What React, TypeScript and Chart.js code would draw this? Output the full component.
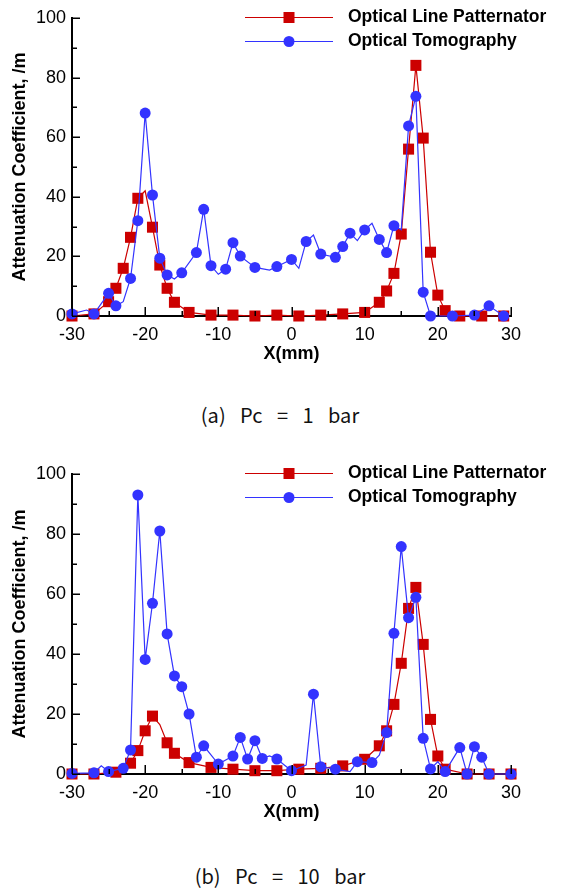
import React, { useEffect, useRef } from "react";
import { Chart, registerables } from "chart.js";
Chart.register(...registerables);

// ---- Panel (a) Pc = 1 bar ----
const olpX_a = [-30, -27, -25, -24, -23, -22, -21, -20, -19, -18, -17, -16, -14, -11, -8, -5, -2, 1, 4, 7, 10, 12, 13, 14, 15, 16, 17, 18, 19, 20, 21, 23, 26, 29];
const olpY_a = [0, 0.7, 4.8, 9.3, 16.0, 26.4, 39.5, 42.0, 29.8, 17.1, 9.3, 4.6, 1.2, 0.3, 0.3, 0, 0.3, 0, 0.3, 0.7, 1.2, 4.6, 8.4, 14.3, 27.5, 56.0, 84.1, 59.7, 21.4, 7.0, 1.8, 0, 0, 0];
const olpNoSymbol_a = [-20];

const otX_a = [-30, -28, -27, -25, -24, -23, -22, -21, -20, -19, -18, -17, -16, -15, -13, -12, -11, -10, -9, -8, -7, -5, -3, -2, 0, 1, 2, 3, 4, 6, 7, 8, 9, 10, 11, 12, 13, 14, 15, 16, 17, 18, 19, 22, 25, 27, 29];
const otY_a = [0.7, 2.0, 0.7, 7.6, 3.4, 4.8, 12.6, 32.0, 68.1, 40.6, 19.4, 13.8, 12.4, 14.5, 21.3, 35.8, 16.9, 14.0, 15.7, 24.6, 20.1, 16.3, 15.4, 16.6, 19.0, 16.0, 25.0, 27.2, 20.8, 19.7, 23.3, 27.8, 25.3, 28.9, 31.1, 25.7, 21.3, 30.3, 28.9, 63.8, 73.7, 8.0, 0, 0, 0.3, 3.4, 0];
const otNoSymbol_a = [-28, -23, -16, -10, -3, 1, 3, 9, 11, 15];

// ---- Panel (b) Pc = 10 bar ----
const olpX_b = [-30, -27, -24, -22, -21, -20, -19, -18, -17, -16, -14, -11, -8, -5, -2, 1, 4, 7, 10, 12, 13, 14, 15, 16, 17, 18, 19, 20, 21, 24, 27, 30];
const olpY_b = [0, 0, 0.6, 3.6, 7.8, 14.4, 19.3, 16.5, 10.4, 6.9, 3.8, 2.2, 1.6, 1.1, 1.1, 1.6, 1.9, 2.7, 4.9, 9.4, 14.4, 23.2, 36.9, 55.2, 62.2, 43.2, 18.2, 6.0, 1.6, 0, 0, 0];
const olpNoSymbol_b = [-18];

const otX_b = [-30, -27, -26, -25, -23, -22, -21, -20, -19, -18, -17, -16, -15, -14, -13, -12, -10, -8, -7, -6, -5, -4, -3, -2, 0, 2, 3, 4, 6, 8, 9, 11, 12, 13, 14, 15, 16, 17, 18, 19, 20, 21, 23, 24, 25, 26, 27, 30];
const otY_b = [0.2, 0.4, 2.7, 0.8, 1.9, 8.0, 93.0, 38.2, 56.9, 81.0, 46.7, 32.7, 29.1, 20.0, 5.6, 9.4, 3.3, 6.0, 12.2, 5.0, 11.1, 5.2, 6.0, 5.0, 1.1, 3.0, 26.6, 2.4, 1.6, 0.8, 4.1, 3.8, 6.3, 13.8, 46.9, 75.8, 52.1, 58.9, 11.9, 1.7, 4.1, 0.8, 8.8, 0, 9.1, 5.6, 0, 0];
const otNoSymbol_b = [-26, -3, 2, 8, 12, 20];

const seriesNames = ["Optical Line Patternator", "Optical Tomography"];
const xTitle = "X(mm)";
const yTitle = "Attenuation Coefficient, /m";
const captions = ["(a) Pc = 1 bar", "(b) Pc = 10 bar"];

const RED = "#CC0000";
const BLUE = "#3333FF";
const FONT = "'Liberation Sans', Arial, sans-serif";
const W = 567;

const innerTicks = {
  id: "innerTicks",
  afterDraw(chart: any) {
    const { ctx, chartArea: a, scales } = chart;
    const x = scales.x;
    const y = scales.y;
    ctx.save();
    ctx.strokeStyle = "#000";
    ctx.lineWidth = 1.5;
    ctx.beginPath();
    for (let v = -30; v <= 30; v += 5) {
      const px = Math.round(x.getPixelForValue(v)) + 0.25;
      const len = v % 10 === 0 ? 9 : 5;
      ctx.moveTo(px, a.bottom);
      ctx.lineTo(px, a.bottom - len);
    }
    for (let v = 0; v <= 100; v += 10) {
      const py = Math.round(y.getPixelForValue(v)) + 0.25;
      const len = v % 20 === 0 ? 8 : 5;
      ctx.moveTo(a.left, py);
      ctx.lineTo(a.left + len, py);
    }
    ctx.stroke();
    ctx.restore();
  },
};

const lineLegend = {
  id: "lineLegend",
  afterDraw(chart: any) {
    const { ctx, chartArea: a } = chart;
    const metas = [1, 0]; // OLP first, OT second
    ctx.save();
    metas.forEach((di, row) => {
      const ds = chart.data.datasets[di];
      const yy = Math.round(a.top - 1 + row * 23.5) + 0.5;
      const x0 = a.left + 173;
      const x1 = a.left + 261;
      const xm = a.left + 217;
      ctx.strokeStyle = ds.borderColor;
      ctx.lineWidth = 1.2;
      ctx.beginPath();
      ctx.moveTo(x0, yy);
      ctx.lineTo(x1, yy);
      ctx.stroke();
      ctx.fillStyle = ds.backgroundColor;
      if (ds.pointStyle === "rect") {
        ctx.fillRect(xm - 5.5, yy - 5.5, 11, 11);
      } else {
        ctx.beginPath();
        ctx.arc(xm, yy, 5.5, 0, Math.PI * 2);
        ctx.fill();
      }
      ctx.fillStyle = "#000";
      ctx.font = `bold 17.5px ${FONT}`;
      ctx.textBaseline = "middle";
      ctx.textAlign = "left";
      ctx.fillText(ds.label, a.left + 276, yy);
    });
    ctx.restore();
  },
};

type PanelProps = {
  top: number;
  height: number;
  padTop: number;
  plotBottom: number;
  titlePad: number;
  olpX: number[];
  olpY: number[];
  olpHide: number[];
  otX: number[];
  otY: number[];
  otHide: number[];
};

function Panel(p: PanelProps) {
  const ref = useRef<HTMLCanvasElement | null>(null);
  useEffect(() => {
    if (!ref.current) return;
    const xH = p.height - p.plotBottom;
    const chart = new Chart(ref.current, {
      type: "line",
      data: {
        datasets: [
          {
            label: seriesNames[1],
            data: p.otX.map((x, i) => ({ x, y: p.otY[i] })),
            borderColor: BLUE,
            backgroundColor: BLUE,
            borderWidth: 1.2,
            pointStyle: "circle",
            pointRadius: (c: any) => (p.otHide.includes(p.otX[c.dataIndex]) ? 0 : 5.5),
            pointHoverRadius: (c: any) => (p.otHide.includes(p.otX[c.dataIndex]) ? 0 : 5.5),
            pointBorderWidth: 0,
            tension: 0,
            clip: false,
            order: 0,
          } as any,
          {
            label: seriesNames[0],
            data: p.olpX.map((x, i) => ({ x, y: p.olpY[i] })),
            borderColor: RED,
            backgroundColor: RED,
            borderWidth: 1.2,
            pointStyle: "rect",
            pointRadius: (c: any) => (p.olpHide.includes(p.olpX[c.dataIndex]) ? 0 : 7.8),
            pointHoverRadius: (c: any) => (p.olpHide.includes(p.olpX[c.dataIndex]) ? 0 : 7.8),
            pointBorderWidth: 0,
            tension: 0,
            clip: false,
            order: 1,
          } as any,
        ],
      },
      options: {
        responsive: false,
        animation: false,
        devicePixelRatio: 1,
        events: [],
        layout: { padding: { left: 0, right: 56, top: p.padTop, bottom: 0 } },
        plugins: { legend: { display: false }, tooltip: { enabled: false } },
        scales: {
          x: {
            type: "linear",
            min: -30,
            max: 30,
            ticks: {
              stepSize: 10,
              color: "#000",
              font: { family: FONT, size: 18 },
              padding: 8,
              maxRotation: 0,
              autoSkip: false,
            },
            grid: { display: false, drawTicks: false },
            border: { display: true, color: "#000", width: 2 },
            title: {
              display: true,
              text: xTitle,
              color: "#000",
              font: { family: FONT, size: 18, weight: "bold" },
              padding: { top: 0, bottom: p.titlePad },
            },
            afterFit: (s: any) => {
              s.height = xH;
            },
          },
          y: {
            type: "linear",
            min: 0,
            max: 100,
            ticks: {
              stepSize: 20,
              color: "#000",
              font: { family: FONT, size: 18 },
              padding: 6,
            },
            grid: { display: false, drawTicks: false },
            border: { display: true, color: "#000", width: 2 },
            title: {
              display: true,
              text: yTitle,
              color: "#000",
              font: { family: FONT, size: 18, weight: "bold" },
              padding: { top: 9, bottom: 0 },
            },
            afterFit: (s: any) => {
              s.width = 72;
            },
          },
        },
      } as any,
      plugins: [innerTicks, lineLegend],
    });
    return () => chart.destroy();
  }, []);
  return (
    <canvas
      ref={ref}
      width={W}
      height={p.height}
      style={{ position: "absolute", left: 0, top: p.top, width: W, height: p.height }}
    />
  );
}

const captionStyle = (top: number): React.CSSProperties => ({
  position: "absolute",
  left: 0,
  top,
  width: 560,
  textAlign: "center",
  fontFamily: "'Noto Sans CJK KR', 'DejaVu Sans', sans-serif",
  fontSize: 20,
  lineHeight: "24px",
  wordSpacing: 10,
  color: "#111",
});

export default function App() {
  return (
    <div style={{ position: "absolute", left: 0, top: 0, width: W, height: 889, background: "#fff" }}>
      <Panel
        top={0}
        height={380}
        padTop={18}
        plotBottom={316}
        titlePad={15}
        olpX={olpX_a}
        olpY={olpY_a}
        olpHide={olpNoSymbol_a}
        otX={otX_a}
        otY={otY_a}
        otHide={otNoSymbol_a}
      />
      <div style={captionStyle(403)}>{captions[0]}</div>
      <Panel
        top={440}
        height={400}
        padTop={34}
        plotBottom={334}
        titlePad={17}
        olpX={olpX_b}
        olpY={olpY_b}
        olpHide={olpNoSymbol_b}
        otX={otX_b}
        otY={otY_b}
        otHide={otNoSymbol_b}
      />
      <div style={captionStyle(864)}>{captions[1]}</div>
    </div>
  );
}
